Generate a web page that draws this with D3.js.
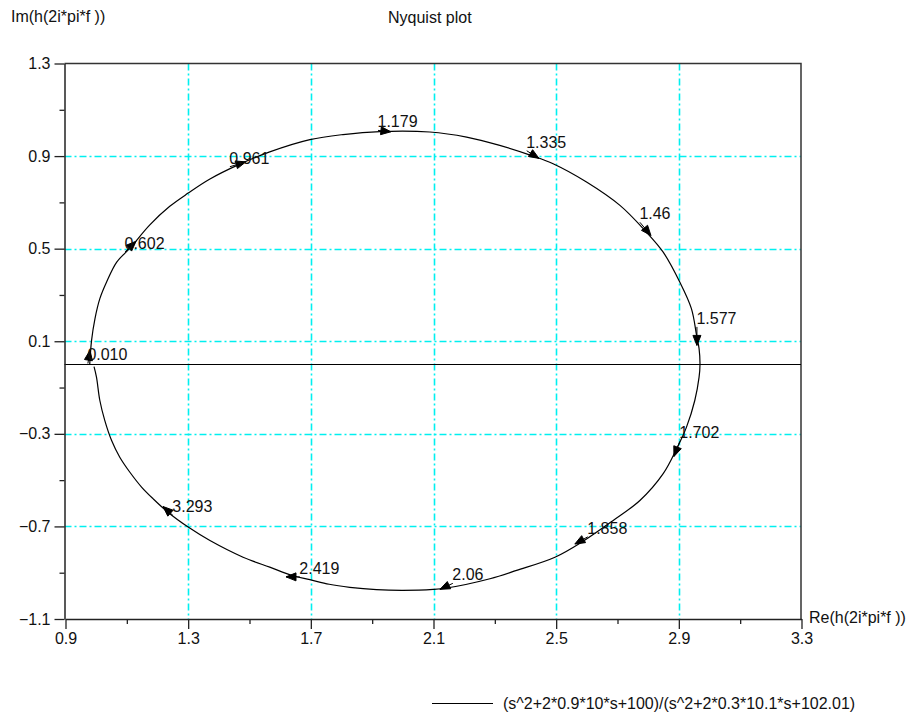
<!DOCTYPE html>
<html>
<head>
<meta charset="utf-8">
<script src="https://cdn.jsdelivr.net/npm/d3@7"></script>
<style>
  html, body { margin: 0; padding: 0; background: #fff; }
  svg { display: block; }
  text { font-family: "Liberation Sans", Arial, Helvetica, sans-serif; font-size: 16px; fill: #111; }
</style>
</head>
<body>
<div id="chart"></div>
<script>
// Axis ticks
const xTicks = [0.9, 1.3, 1.7, 2.1, 2.5, 2.9, 3.3];
const yTicks = [-1.1, -0.7, -0.3, 0.1, 0.5, 0.9, 1.3];
const xMinor = [1.1, 1.5, 1.9, 2.3, 2.7, 3.1];
const yMinor = [-0.9, -0.5, -0.1, 0.3, 0.7, 1.1];

// Frequency response h(2i*pi*f), real and imaginary parts, in order of rising frequency
const curveRe = [0.979, 0.985, 0.996, 1.012, 1.034, 1.067, 1.110, 1.175, 1.240, 1.300, 1.371, 1.463,
  1.566, 1.697, 1.805, 1.925, 2.088, 2.208, 2.316, 2.425, 2.490, 2.599, 2.708, 2.789, 2.849, 2.903,
  2.941, 2.958, 2.966, 2.969, 2.966, 2.952, 2.925, 2.893, 2.849, 2.773, 2.686, 2.583, 2.496, 2.371,
  2.284, 2.143, 2.099, 2.000, 1.914, 1.827, 1.760, 1.697, 1.642, 1.566, 1.479, 1.371, 1.300, 1.235,
  1.186, 1.148, 1.110, 1.077, 1.050, 1.028, 1.012, 1.001, 0.993];
const curveIm = [0.000, 0.104, 0.197, 0.284, 0.356, 0.442, 0.502, 0.603, 0.683, 0.740, 0.801, 0.862,
  0.918, 0.971, 0.993, 1.006, 1.004, 0.982, 0.946, 0.900, 0.867, 0.788, 0.687, 0.579, 0.485, 0.356,
  0.241, 0.125, 0.068, 0.000, -0.055, -0.156, -0.271, -0.364, -0.472, -0.588, -0.674, -0.768, -0.833, -0.890,
  -0.926, -0.966, -0.972, -0.976, -0.973, -0.963, -0.950, -0.930, -0.913, -0.876, -0.833, -0.761, -0.703, -0.640,
  -0.581, -0.530, -0.466, -0.401, -0.328, -0.242, -0.156, -0.055, -0.010];

// Frequency marks (Hz): where each label sits and where its arrow points
const freqLabels = ["0.010", "0.602", "0.961", "1.179", "1.335", "1.46", "1.577", "1.702", "1.858", "2.06", "2.419", "3.293"];
const labelRe = [0.973, 1.094, 1.436, 1.919, 2.404, 2.773, 2.959, 2.903, 2.603, 2.163, 1.664, 1.250];
const labelIm = [0.004, 0.486, 0.854, 1.011, 0.923, 0.614, 0.162, -0.333, -0.745, -0.946, -0.918, -0.652];
const arrowRe = [0.980, 1.130, 1.488, 1.961, 2.444, 2.809, 2.959, 2.884, 2.561, 2.121, 1.619, 1.218];
const arrowIm = [0.061, 0.532, 0.875, 1.005, 0.890, 0.557, 0.082, -0.398, -0.776, -0.972, -0.918, -0.614];

const titleText = "Nyquist plot";
const xLabel = "Re(h(2i*pi*f ))";
const yLabel = "Im(h(2i*pi*f ))";
const legendText = "(s^2+2*0.9*10*s+100)/(s^2+2*0.3*10.1*s+102.01)";

const W = 914, H = 713;
const plotL = 64.5, plotR = 801, plotT = 63.5, plotB = 619;

const svg = d3.select("#chart").append("svg")
  .attr("width", W).attr("height", H)
  .style("background", "#fff");

const x = d3.scaleLinear().domain([0.9, 3.3]).range([65.5, 801.5]);
const y = d3.scaleLinear().domain([-1.1, 1.3]).range([plotB, plotT]);

// Cyan dash-dot grid on the inner ticks
const gridX = xTicks.slice(1, -1), gridY = yTicks.slice(1, -1);
svg.append("g").selectAll("line").data(gridX).join("line")
  .attr("x1", d => Math.round(x(d)) + 0.5).attr("x2", d => Math.round(x(d)) + 0.5)
  .attr("y1", plotT).attr("y2", plotB)
  .attr("stroke", "#00f0f0").attr("stroke-width", 1.6)
  .attr("stroke-dasharray", "7,3,2,3");
svg.append("g").selectAll("line").data(gridY).join("line")
  .attr("y1", d => Math.round(y(d)) + 0.5).attr("y2", d => Math.round(y(d)) + 0.5)
  .attr("x1", plotL).attr("x2", plotR)
  .attr("stroke", "#00f0f0").attr("stroke-width", 1.6)
  .attr("stroke-dasharray", "7,3,2,3");

// Frame: top and right edges
svg.append("path")
  .attr("d", `M${plotL},${plotT}H${plotR}V${plotB}`)
  .attr("fill", "none").attr("stroke", "#333").attr("stroke-width", 1.5);

// Real axis (Im = 0)
svg.append("line")
  .attr("x1", plotL).attr("x2", plotR)
  .attr("y1", Math.round(y(0)) + 0.5).attr("y2", Math.round(y(0)) + 0.5)
  .attr("stroke", "#000").attr("stroke-width", 1.2);

// Axes with major and minor outward ticks
const fmt = d => d3.format(".1f")(d);
function styleAxis(g) {
  g.select(".domain").attr("stroke", "#222").attr("stroke-width", 1.5);
  g.selectAll(".tick line").attr("stroke", "#222").attr("stroke-width", 1.3);
  g.selectAll(".tick text").attr("fill", "#111")
    .style("font-family", "'Liberation Sans', Arial, sans-serif").style("font-size", "16px");
}
const xAxisG = svg.append("g").attr("transform", `translate(0,${plotB})`)
  .call(d3.axisBottom(x).tickValues(xTicks).tickFormat(fmt).tickSize(10).tickPadding(4).tickSizeOuter(0));
styleAxis(xAxisG);
const xMinorG = svg.append("g").attr("transform", `translate(0,${plotB})`)
  .call(d3.axisBottom(x).tickValues(xMinor).tickFormat("").tickSize(5).tickSizeOuter(0));
styleAxis(xMinorG);
xMinorG.select(".domain").remove();

const yAxisG = svg.append("g").attr("transform", `translate(${plotL},0)`)
  .call(d3.axisLeft(y).tickValues(yTicks).tickFormat(fmt).tickSize(10).tickPadding(4).tickSizeOuter(0));
styleAxis(yAxisG);
const yMinorG = svg.append("g").attr("transform", `translate(${plotL},0)`)
  .call(d3.axisLeft(y).tickValues(yMinor).tickFormat("").tickSize(5).tickSizeOuter(0));
styleAxis(yMinorG);
yMinorG.select(".domain").remove();

// Nyquist curve
const pts = curveRe.map((r, i) => [r, curveIm[i]]);
const line = d3.line().x(d => x(d[0])).y(d => y(d[1])).curve(d3.curveCatmullRom.alpha(0.5));
svg.append("path").datum(pts)
  .attr("d", line)
  .attr("fill", "none").attr("stroke", "#000").attr("stroke-width", 1.2);

// Frequency arrows and labels
const marks = freqLabels.map((t, i) => ({
  t, px: x(labelRe[i]), py: y(labelIm[i]), tx: x(arrowRe[i]), ty: y(arrowIm[i])
}));
const mg = svg.append("g");
mg.selectAll("path").data(marks).join("path")
  .attr("d", m => {
    const dx = m.tx - m.px, dy = m.ty - m.py;
    const len = Math.hypot(dx, dy);
    const ux = dx / len, uy = dy / len;
    const L = 10, hw = 4;
    const bx = m.tx - ux * L, by = m.ty - uy * L;
    return `M${m.px},${m.py}L${m.tx},${m.ty}` +
      `M${m.tx},${m.ty}L${bx - uy * hw},${by + ux * hw}L${bx + uy * hw},${by - ux * hw}Z`;
  })
  .attr("fill", "#000").attr("stroke", "#000").attr("stroke-width", 1);
mg.selectAll("text").data(marks).join("text")
  .attr("x", m => m.px - 0.5).attr("y", m => m.py - 3)
  .text(m => m.t);

// Titles
svg.append("text").attr("x", 388).attr("y", 23).text(titleText);
svg.append("text").attr("x", 11).attr("y", 22).text(yLabel);
svg.append("text").attr("x", 809).attr("y", 623).text(xLabel);

// Legend
svg.append("line").attr("x1", 432).attr("x2", 493).attr("y1", 703.5).attr("y2", 703.5)
  .attr("stroke", "#000").attr("stroke-width", 1.2);
svg.append("text").attr("x", 503).attr("y", 709).text(legendText);
</script>
</body>
</html>
